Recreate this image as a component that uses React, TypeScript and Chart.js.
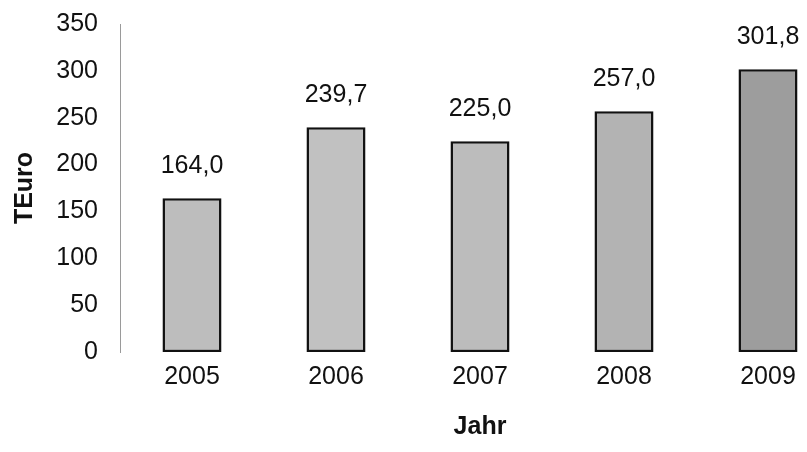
import React, { useEffect, useRef } from "react";
import { Chart, registerables } from "chart.js";

Chart.register(...registerables);

const years = ["2005", "2006", "2007", "2008", "2009"];
const values = [164.0, 239.7, 225.0, 257.0, 301.8];
const valueLabels = ["164,0", "239,7", "225,0", "257,0", "301,8"];
const yTicks = [0, 50, 100, 150, 200, 250, 300, 350];
const barColors = ["#bdbdbd", "#c1c1c1", "#bcbcbc", "#b3b3b3", "#9d9d9d"];

const FONT = "'Liberation Sans', Arial, sans-serif";

const valueLabelPlugin = {
  id: "valueLabels",
  afterDatasetsDraw(chart: any) {
    const ctx = chart.ctx;
    const meta = chart.getDatasetMeta(0);
    ctx.save();
    ctx.font = `25px ${FONT}`;
    ctx.fillStyle = "#111";
    ctx.textAlign = "center";
    ctx.textBaseline = "alphabetic";
    meta.data.forEach((bar: any, i: number) => {
      ctx.fillText(valueLabels[i], bar.x, bar.y - 25);
    });
    ctx.restore();
  },
};

export default function App() {
  const ref = useRef<HTMLCanvasElement>(null);
  useEffect(() => {
    if (!ref.current) return;
    const chart = new Chart(ref.current, {
      type: "bar",
      data: {
        labels: years,
        datasets: [
          {
            data: values,
            backgroundColor: barColors,
            borderColor: "#111",
            borderWidth: 2.5,
            borderSkipped: false,
            barPercentage: 0.41,
            categoryPercentage: 1,
          },
        ],
      },
      options: {
        responsive: false,
        animation: false,
        devicePixelRatio: 1,
        layout: { padding: { left: 0, right: 0, top: 24, bottom: 0 } },
        plugins: { legend: { display: false }, tooltip: { enabled: false } },
        scales: {
          x: {
            grid: { display: false, drawTicks: false },
            border: { display: false },
            ticks: { color: "#111", font: { family: FONT, size: 25 }, padding: 10 },
            title: {
              display: true,
              text: "Jahr",
              color: "#111",
              font: { family: FONT, size: 25, weight: "bold" },
              padding: { top: 0, bottom: 10 },
            },
            afterFit(scale: any) {
              scale.height = 100;
              scale.paddingLeft = 0;
              scale.paddingRight = 0;
            },
          },
          y: {
            min: 0,
            max: 350,
            afterBuildTicks(scale: any) {
              scale.ticks = yTicks.map((v) => ({ value: v }));
            },
            grid: { display: false, drawTicks: false },
            border: { display: true, color: "#9a9a9a", width: 1, dash: [6, 3] },
            ticks: { color: "#111", font: { family: FONT, size: 25 }, padding: 22 },
            title: {
              display: true,
              text: "TEuro",
              color: "#111",
              font: { family: FONT, size: 25, weight: "bold" },
              padding: { top: 10, bottom: 0 },
            },
            afterFit(scale: any) {
              scale.width = 120;
              scale.paddingTop = 0;
              scale.paddingBottom = 0;
            },
          },
        },
      },
      plugins: [valueLabelPlugin],
    });
    return () => chart.destroy();
  }, []);
  return (
    <div
      style={{
        position: "fixed",
        left: 0,
        top: 0,
        width: 807,
        height: 452,
        overflow: "hidden",
        background: "#fff",
      }}
    >
      <canvas ref={ref} width={840} height={452} style={{ display: "block" }} />
    </div>
  );
}
